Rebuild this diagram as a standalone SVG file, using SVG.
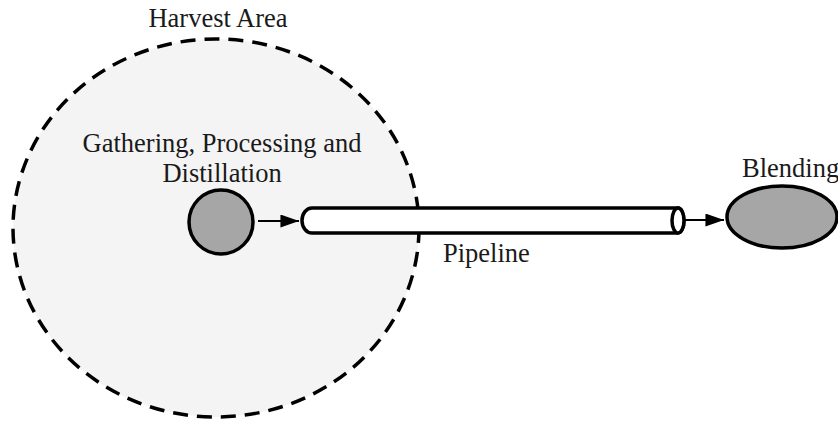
<svg xmlns="http://www.w3.org/2000/svg" width="838" height="423" viewBox="0 0 838 423">
<defs>
<style>
.t{font-family:"Liberation Serif","Times New Roman",serif;font-size:26.5px;fill:#1a1a1a}
.n{fill:#a6a6a6;stroke:#000;stroke-width:3.5}
</style>
<marker id="ah" viewBox="0 0 20 14" refX="20" refY="7" markerWidth="21" markerHeight="13" markerUnits="userSpaceOnUse" orient="auto"><path d="M0,0 L20,7 L0,14 z" fill="#000"/></marker>
</defs>
<rect width="838" height="423" fill="#fff"/>
<g id="harvest">
<ellipse cx="216" cy="228" rx="203" ry="189" fill="#f4f4f4" stroke="#000" stroke-width="3.5" stroke-dasharray="15,9"/>
<text class="t" x="218" y="27" text-anchor="middle">Harvest Area</text>
</g>
<g id="gathering">
<circle cx="221" cy="222" r="32" class="n"/>
<text class="t" x="222" y="152" text-anchor="middle">Gathering, Processing and</text>
<text class="t" x="222" y="182" text-anchor="middle">Distillation</text>
</g>
<g id="pipeline">
<path d="M312,208 L678,208 A6,12.5 0 0 1 678,233 L312,233 A10,12.5 0 0 1 312,208 z" fill="#fff" stroke="#000" stroke-width="3.5"/>
<ellipse cx="678" cy="220.5" rx="6" ry="12.5" fill="#fff" stroke="#000" stroke-width="3.5"/>
<text class="t" x="443" y="262">Pipeline</text>
</g>
<g id="blending">
<ellipse cx="782" cy="217" rx="55" ry="31" class="n"/>
<text class="t" x="742" y="177">Blending</text>
</g>
<g id="connectors" stroke="#000" stroke-width="2" fill="none">
<line x1="258" y1="221" x2="299" y2="221" marker-end="url(#ah)"/>
<line x1="684" y1="220" x2="724" y2="220" marker-end="url(#ah)"/>
</g>
</svg>
